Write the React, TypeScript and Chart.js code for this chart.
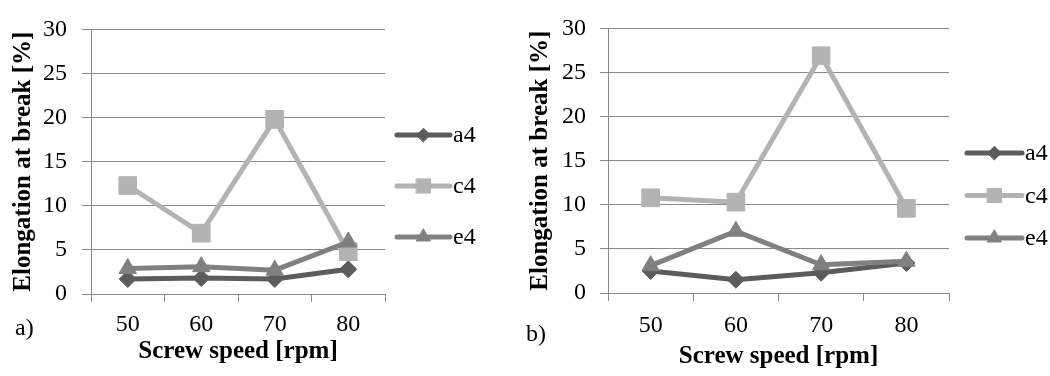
import React, { useEffect, useRef } from 'react';
import { Chart, registerables } from 'chart.js';
import { drawPoint } from 'chart.js/helpers';

Chart.register(...registerables);

// ---------- data ----------
const speeds = ['50', '60', '70', '80'];
const seriesNames = ['a4', 'c4', 'e4'];

const panelA_a4 = [1.7, 1.8, 1.7, 2.8];
const panelA_c4 = [12.3, 6.9, 19.8, 4.8];
const panelA_e4 = [2.9, 3.1, 2.7, 5.9];

const panelB_a4 = [2.5, 1.5, 2.3, 3.4];
const panelB_c4 = [10.8, 10.3, 26.9, 9.6];
const panelB_e4 = [3.1, 7.0, 3.2, 3.6];

const yMin = 0;
const yMax = 30;
const yStep = 5;

const yTitle = 'Elongation at break [%]';
const xTitle = 'Screw speed [rpm]';

// ---------- styles ----------
const FONT = "'Liberation Serif', 'Times New Roman', serif";
const GRID = '#8a8a8a';
const COLORS = ['#5c5c5c', '#b3b3b3', '#808080'];
const STYLES = ['rectRot', 'rect', 'triangle'];
const RADII = [8.5, 12.5, 10];
const TICK_SIZE = 24;
const TITLE_SIZE = 25;

const lineLegend = {
  id: 'lineLegend',
  afterDraw(chart: any, _args: any, opts: any) {
    const ctx = chart.ctx;
    ctx.save();
    chart.data.datasets.forEach((ds: any, i: number) => {
      const y = opts.y0 + i * opts.gap;
      ctx.strokeStyle = ds.borderColor;
      ctx.lineWidth = ds.borderWidth;
      ctx.lineCap = 'round';
      ctx.beginPath();
      ctx.moveTo(opts.x0, y);
      ctx.lineTo(opts.x1, y);
      ctx.stroke();
      ctx.fillStyle = ds.pointBackgroundColor;
      ctx.strokeStyle = ds.pointBorderColor;
      ctx.lineWidth = 1;
      drawPoint(ctx, { pointStyle: ds.pointStyle, radius: ds.pointRadius * 0.8, rotation: 0, borderWidth: 1 } as any, (opts.x0 + opts.x1) / 2, y);
      ctx.fillStyle = '#000';
      ctx.font = `${opts.size}px ${FONT}`;
      ctx.textAlign = 'left';
      ctx.textBaseline = 'middle';
      ctx.fillText(ds.label, opts.x1 + 3, y + 1);
    });
    ctx.restore();
  },
};

const panelLabel = {
  id: 'panelLabel',
  afterDraw(chart: any, _args: any, opts: any) {
    const ctx = chart.ctx;
    ctx.save();
    ctx.fillStyle = '#000';
    ctx.font = `${opts.size}px ${FONT}`;
    ctx.textAlign = 'left';
    ctx.textBaseline = 'middle';
    ctx.fillText(opts.text, opts.x, opts.y);
    ctx.restore();
  },
};

function makeConfig(values: number[][], p: any) {
  const datasets = values.map((v, i) => ({
    label: seriesNames[i],
    data: v,
    borderColor: COLORS[i],
    backgroundColor: COLORS[i],
    pointBackgroundColor: COLORS[i],
    pointBorderColor: COLORS[i],
    borderWidth: 5,
    pointStyle: STYLES[i],
    pointRadius: RADII[i],
    pointBorderWidth: 1,
    tension: 0,
    order: 2 - i,
  }));
  return {
    type: 'line',
    data: { labels: speeds, datasets },
    plugins: [lineLegend, panelLabel],
    options: {
      responsive: false,
      animation: false,
      layout: { padding: { left: 0, top: p.top, right: p.right, bottom: 0 } },
      plugins: {
        legend: { display: false },
        tooltip: { enabled: false },
        lineLegend: p.legend,
        panelLabel: p.label,
      },
      scales: {
        x: {
          type: 'category',
          offset: true,
          grid: { offset: true, drawOnChartArea: false, drawTicks: true, tickLength: 8, color: GRID, lineWidth: 1 },
          border: { color: GRID, width: 1 },
          ticks: { font: { family: FONT, size: TICK_SIZE }, color: '#000', padding: p.xTickPad, maxRotation: 0 },
          title: {
            display: true,
            text: xTitle,
            color: '#000',
            font: { family: FONT, size: TITLE_SIZE, weight: 'bold' },
            padding: { top: 0, bottom: p.xTitlePad },
          },
          afterFit: (s: any) => { s.height = p.xHeight; },
        },
        y: {
          min: yMin,
          max: yMax,
          grid: { color: GRID, lineWidth: 1, tickLength: p.yTickLen },
          border: { color: GRID, width: 1 },
          ticks: { stepSize: yStep, font: { family: FONT, size: TICK_SIZE }, color: '#000', padding: p.yTickPad },
          title: {
            display: true,
            text: yTitle,
            color: '#000',
            font: { family: FONT, size: TITLE_SIZE, weight: 'bold' },
            padding: { top: p.yTitlePad, bottom: 0 },
          },
          afterFit: (s: any) => { s.width = p.yWidth; },
        },
      },
    },
  } as any;
}

function Panel({ values, params, left, width }: any) {
  const ref = useRef<HTMLCanvasElement>(null);
  useEffect(() => {
    const chart = new Chart(ref.current as HTMLCanvasElement, makeConfig(values, params));
    return () => chart.destroy();
  }, []);
  return (
    <canvas
      ref={ref}
      width={width}
      height={376}
      style={{ position: 'absolute', left, top: 0, width, height: 376, display: 'block' }}
    />
  );
}

const paramsA = {
  top: 23, right: 135, yWidth: 91, xHeight: 82,
  yTickLen: 9, yTickPad: 15, xTickPad: 8, xTitlePad: 9, yTitlePad: 9,
  legend: { x0: 397, x1: 450, y0: 135, gap: 51, size: 24 },
  label: { text: 'a)', x: 15, y: 329, size: 24 },
};

const paramsB = {
  top: 13, right: 101, yWidth: 88, xHeight: 83,
  yTickLen: 8, yTickPad: 14, xTickPad: 10, xTitlePad: 4, yTitlePad: 6,
  legend: { x0: 447, x1: 502, y0: 153, gap: 42.5, size: 24 },
  label: { text: 'b)', x: 6, y: 335, size: 24 },
};

export default function App() {
  return (
    <div style={{ position: 'absolute', left: 0, top: 0, width: 1050, height: 376, background: '#fff', overflow: 'hidden' }}>
      <Panel values={[panelA_a4, panelA_c4, panelA_e4]} params={paramsA} left={0} width={520} />
      <Panel values={[panelB_a4, panelB_c4, panelB_e4]} params={paramsB} left={520} width={530} />
    </div>
  );
}
